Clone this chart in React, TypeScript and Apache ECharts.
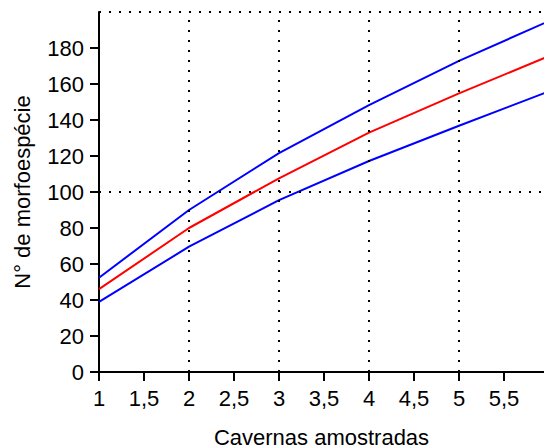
import React, { useEffect, useRef } from "react";
import * as echarts from "echarts";

const samples = [1, 2, 3, 4, 5, 6];
const meanSpecies = [46, 80, 107.6, 133, 154.8, 175.5];
const upperBound = [52.4, 90, 121.6, 148.3, 172.8, 195];
const lowerBound = [39, 69.6, 95.5, 117.2, 136.8, 155.9];
const yTicks = [0, 20, 40, 60, 80, 100, 120, 140, 160, 180];
const xTicks = [1, 1.5, 2, 2.5, 3, 3.5, 4, 4.5, 5, 5.5];
const refX = [2, 3, 4, 5];
const refY = [100, 200];

const FONT = "'Liberation Sans', Arial, sans-serif";

export default function App() {
  const ref = useRef<HTMLDivElement>(null);
  useEffect(() => {
    if (!ref.current) return;
    const chart = echarts.init(ref.current, null, { renderer: "svg" });
    const toPairs = (ys: number[]) => samples.map((x, i) => [x, ys[i]]);
    const dotted = { color: "#000", width: 2, type: [2, 8] as number[] };
    chart.setOption({
      animation: false,
      backgroundColor: "#fff",
      grid: { left: 99, right: 0, top: 12, bottom: 76, containLabel: false, outerBoundsMode: "none" },
      xAxis: {
        type: "value",
        min: 1,
        max: 1 + 445 / 90,
        interval: 0.5,
        name: "Cavernas amostradas",
        nameLocation: "middle",
        nameGap: 54,
        nameTextStyle: { color: "#000", fontSize: 22, fontFamily: FONT },
        axisLine: { show: true, onZero: false, lineStyle: { color: "#000", width: 2 } },
        axisTick: { show: true, length: 9, lineStyle: { color: "#000", width: 2 }, customValues: xTicks },
        axisLabel: {
          color: "#000",
          fontSize: 22,
          fontFamily: FONT,
          margin: 15,
          customValues: xTicks,
          formatter: (v: number) => String(v).replace(".", ","),
        },
        splitLine: { show: false },
      },
      yAxis: {
        type: "value",
        min: 0,
        max: 200,
        interval: 20,
        name: "N° de morfoespécie",
        nameLocation: "middle",
        nameGap: 66,
        nameTextStyle: { color: "#000", fontSize: 22, fontFamily: FONT },
        axisLine: { show: true, onZero: false, lineStyle: { color: "#000", width: 2 } },
        axisTick: { show: true, length: 9, lineStyle: { color: "#000", width: 2 }, customValues: yTicks },
        axisLabel: { color: "#000", fontSize: 22, fontFamily: FONT, margin: 15, customValues: yTicks },
        splitLine: { show: false },
      },
      series: [
        {
          type: "line",
          name: "upper",
          data: toPairs(upperBound),
          showSymbol: false,
          symbol: "none",
          lineStyle: { color: "#0000ff", width: 2 },
          z: 3,
        },
        {
          type: "line",
          name: "mean",
          data: toPairs(meanSpecies),
          showSymbol: false,
          symbol: "none",
          lineStyle: { color: "#ff0000", width: 2 },
          z: 3,
          markLine: {
            silent: true,
            symbol: ["none", "none"],
            label: { show: false },
            lineStyle: dotted,
            data: [...refX.map((x) => ({ xAxis: x })), ...refY.map((y) => ({ yAxis: y }))],
          },
        },
        {
          type: "line",
          name: "lower",
          data: toPairs(lowerBound),
          showSymbol: false,
          symbol: "none",
          lineStyle: { color: "#0000ff", width: 2 },
          z: 3,
        },
      ],
    });
    return () => chart.dispose();
  }, []);
  return (
    <div
      ref={ref}
      style={{ position: "absolute", left: 0, top: 0, width: 544, height: 448 }}
    />
  );
}
